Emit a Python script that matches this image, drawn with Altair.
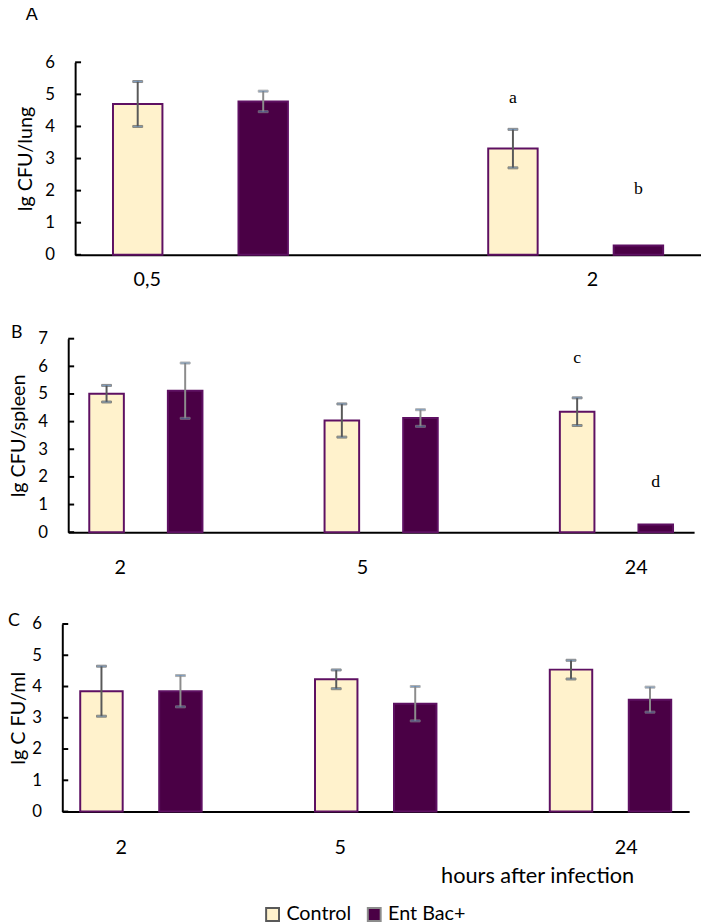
import altair as alt
import pandas as pd

FONT = "Lato"
SERIF = "Liberation Serif"
CREAM = "#FFF2CC"
DARK = "#4A0045"
PURPLE = "#5E1062"
ERR_COLORS = ["#595959", "#8C8C8C"]

groups = ["Control", "Ent Bac+"]

# Panel A: lung
a_times = ["0,5", "2"]
a_control = [4.70, 3.31]
a_control_err = [0.70, 0.60]
a_ent = [4.78, 0.29]
a_ent_err = [0.32, 0.0]
a_letters = ["a", "b"]
a_letter_times = ["2", "2"]
a_letter_y = [4.9, 2.06]

# Panel B: spleen
b_times = ["2", "5", "24"]
b_control = [5.01, 4.04, 4.36]
b_control_err = [0.30, 0.60, 0.50]
b_ent = [5.12, 4.13, 0.28]
b_ent_err = [1.00, 0.30, 0.0]
b_letters = ["c", "d"]
b_letter_times = ["24", "24"]
b_letter_y = [6.3, 1.8]

# Panel C: blood
c_times = ["2", "5", "24"]
c_control = [3.85, 4.23, 4.54]
c_control_err = [0.80, 0.30, 0.30]
c_ent = [3.85, 3.45, 3.58]
c_ent_err = [0.50, 0.55, 0.40]
c_letters = []
c_letter_times = []
c_letter_y = []


def label_offset(times, offsets):
    conds = [{"test": f"datum.value == '{t}'", "value": o} for t, o in zip(times[:-1], offsets[:-1])]
    return {"condition": conds if len(conds) > 1 else conds[0], "value": offsets[-1]}


def panel(letter, letter_dx, letter_offset, letter_dy, shift, times, ctrl, ctrl_err,
          ent, ent_err, letters, letter_times, letter_y, ymax, ytitle, title_pad,
          plot_w, height, pi, po, opi, opo, x_lab_pad, x_offsets,
          xtitle=None, legend=None):
    bars = pd.DataFrame({
        "time": times + times,
        "group": [groups[0]] * len(times) + [groups[1]] * len(times),
        "value": ctrl + ent,
        "err": ctrl_err + ent_err,
    })
    bars["lo"] = bars["value"] - bars["err"]
    bars["hi"] = bars["value"] + bars["err"]
    errs = bars[bars["err"] > 0]
    caps = pd.concat([
        errs[["time", "group"]].assign(cap=errs["lo"]),
        errs[["time", "group"]].assign(cap=errs["hi"]),
    ])
    ann = pd.DataFrame({"time": letter_times, "group": groups[:len(letters)],
                        "pos": letter_y, "label": letters})
    ticks = pd.DataFrame({"tick": list(range(ymax + 1))})

    xaxis_kw = dict(labelFontSize=20, labelFont=FONT, labelColor="black",
                    labelPadding=x_lab_pad, ticks=False, domainColor="black",
                    domainWidth=2, labelAngle=0,
                    labelOffset=label_offset(times, x_offsets))
    if xtitle:
        xaxis_kw.update(titleFont=FONT, titleFontSize=22,
                        titleFontWeight="normal", titleColor="black",
                        titleX=xtitle[1], titleY=xtitle[2], titleAlign="center",
                        titleBaseline="alphabetic")
        xaxis_kw["title"] = xtitle[0]
    else:
        xaxis_kw["title"] = None
    xaxis = alt.Axis(**xaxis_kw)
    yaxis = alt.Axis(values=list(range(ymax + 1)), ticks=False, grid=False,
                     labelPadding=21, labelFontSize=17, labelFont=FONT,
                     labelColor="black", title=ytitle, titleFont=FONT,
                     titleFontSize=20, titleFontWeight="normal",
                     titleColor="black", titlePadding=title_pad,
                     domainColor="black", domainWidth=2, offset=-shift)

    xscale = alt.Scale(range=[shift, shift + plot_w], paddingInner=pi, paddingOuter=po)
    oscale = alt.Scale(paddingInner=opi, paddingOuter=opo)
    yscale = alt.Scale(domain=[0, ymax], nice=False)

    def X():
        return alt.X("time:N", sort=times, scale=xscale, axis=xaxis)

    def XO():
        return alt.XOffset("group:N", sort=groups, scale=oscale)

    def Y(field):
        return alt.Y(field, scale=yscale, axis=yaxis)

    bar = alt.Chart(bars).mark_bar(stroke=PURPLE, strokeWidth=2).encode(
        x=X(), xOffset=XO(),
        y=Y("value:Q"),
        fill=alt.Fill("group:N", sort=groups,
                      scale=alt.Scale(domain=groups, range=[CREAM, DARK]),
                      legend=legend),
    )
    err_scale = alt.Scale(domain=groups, range=ERR_COLORS)
    rule = alt.Chart(errs).mark_rule(strokeWidth=2).encode(
        x=X(), xOffset=XO(),
        y=Y("lo:Q"), y2="hi:Q",
        stroke=alt.Stroke("group:N", scale=err_scale, legend=None),
    )
    cap = alt.Chart(caps).mark_tick(thickness=2, size=10).encode(
        x=X(), xOffset=XO(),
        y=Y("cap:Q"),
        stroke=alt.Stroke("group:N", scale=err_scale, legend=None),
    )
    tick = alt.Chart(ticks).mark_rule(color="black", strokeWidth=2).encode(
        y=Y("tick:Q"),
        x=alt.value(shift), x2=alt.value(shift + 6),
    )
    layers = [bar, rule, cap, tick]
    if letters:
        txt = alt.Chart(ann).mark_text(font=SERIF, fontSize=18, color="black",
                                       baseline="middle").encode(
            x=X(), xOffset=XO(),
            y=Y("pos:Q"),
            text="label:N",
        )
        layers.append(txt)
    return alt.layer(*layers).properties(
        width=shift + plot_w, height=height,
        title=alt.TitleParams(letter, anchor="start", frame="group", orient="top",
                              font=FONT, fontSize=18, fontWeight="normal",
                              color="black", dx=letter_dx, dy=letter_dy,
                              offset=letter_offset, baseline="alphabetic"),
    )


pa = panel("A", -37, 16, 0, 13, a_times, a_control, a_control_err, a_ent, a_ent_err,
           a_letters, a_letter_times, a_letter_y, 6, "lg CFU/lung", 9.5, 634, 195,
           0.4, 0.034, 0.606, 0.2, 15, [-54, 17])
pb = panel("B", -52, 1, 27, 6, b_times, b_control, b_control_err, b_ent, b_ent_err,
           b_letters, b_letter_times, b_letter_y, 7, "lg CFU/spleen", 9, 634, 196,
           0.4, 0.03, 0.56, 0.178, 26, [-26, -19, 20])
pc = panel("C", -55, 0, 29, 0, c_times, c_control, c_control_err, c_ent, c_ent_err,
           c_letters, c_letter_times, c_letter_y, 6, "lg C FU/ml", 3, 635, 190,
           0.4, 0.035, 0.4625, 0.123, 26, [-20, -36, 16],
           xtitle=("hours after infection", 481, 72),
           legend=alt.Legend(orient="none", legendX=203, legendY=284,
                             direction="horizontal", title=None,
                             symbolType="square", symbolSize=170,
                             symbolStrokeColor=PURPLE, symbolStrokeWidth=2,
                             labelFontSize=20, labelFont=FONT, labelColor="black",
                             columnPadding=12, labelOffset=4))

chart = alt.concat(pa, pb, pc, columns=1, spacing=35).resolve_scale(
    x="independent", y="independent", xOffset="independent",
    fill="independent", stroke="independent",
).properties(
    padding={"left": 0, "top": -8, "right": 0, "bottom": 0}
).configure_view(stroke=None)

chart.save("out.html", embed_options={"renderer": "svg", "actions": False})
